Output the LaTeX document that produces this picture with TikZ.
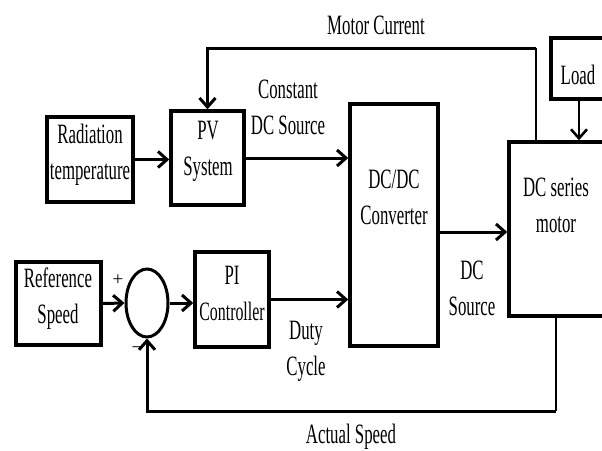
\documentclass[tikz,border=0pt]{standalone}
\usepackage{fontspec}
\setmainfont[FakeStretch=0.6]{Liberation Serif}
\newfontfamily\signfont{Liberation Serif}
\usetikzlibrary{arrows.meta,shapes.geometric,calc}
\begin{document}
\begin{tikzpicture}[x=1pt,y=-1pt,
  box/.style={draw,line width=3.5pt,rectangle,inner sep=0pt},
  lbl/.style={inner sep=0pt,align=center,font=\fontsize{28}{36}\selectfont},
  sgn/.style={inner sep=0pt,font=\signfont\fontsize{19}{19}\selectfont},
  arr/.style={line width=3pt,-{Straight Barb[length=9pt,width=16pt]}},
  fb/.style={line width=2.6pt,-{Straight Barb[length=9pt,width=16pt]}},
  fbl/.style={line width=2.6pt}]
\clip (0,0) rectangle (602,450);
\fill[white] (0,0) rectangle (602,450);
% boxes
\node[box,minimum width=86pt,minimum height=85pt] (rad) at (90,159.5) {};
\node[box,minimum width=73pt,minimum height=94pt] (pv) at (207.5,158) {};
\node[box,minimum width=88pt,minimum height=242pt] (dcdc) at (394,225) {};
\node[box,minimum width=98pt,minimum height=174pt] (motor) at (558,229) {};
\node[box,minimum width=56pt,minimum height=61pt] (load) at (579,68.5) {};
\node[box,minimum width=85pt,minimum height=83pt] (ref) at (58.5,303.5) {};
\node[draw,line width=3pt,ellipse,minimum width=42pt,minimum height=68pt,inner sep=0pt] (sum) at (147,303) {};
\node[box,minimum width=74pt,minimum height=95pt] (pi) at (232,299.5) {};
% texts
\node[lbl] (tmc) at (376,25) {Motor Current};
\node[lbl] (trad) at (90,155) {Radiation\\temperature};
\node[lbl] (tpv) at (208,151) {PV\\System};
\node[lbl] (tcds) at (288,107) {Constant\\DC Source};
\node[lbl] (tdcdc) at (394,197) {DC/DC\\Converter};
\node[lbl] (tmotor) at (556,205.5) {DC series\\motor};
\node[lbl] (tload) at (578,75) {Load};
\node[lbl] (tdcs) at (472,288) {DC\\Source};
\node[lbl] (tref) at (58,299) {Reference\\Speed};
\node[lbl] (tpi) at (232,293) {PI\\{\fontsize{26.5}{26.5}\selectfont Controller}};
\node[lbl] (tduty) at (306,351) {Duty\\Cycle};
\node[lbl] (tas) at (351,437) {Actual Speed};
\node[sgn] (tplus) at (118,280) {+};
\node[sgn] (tminus) at (137,350) {−};
% connectors
\draw[arr] (rad.east) -- (rad.east -| pv.west);
\draw[arr] (pv.east) -- (pv.east -| dcdc.west);
\coordinate (dco) at (438,232);
\draw[arr] (dco) -- (dco -| motor.west);
\draw[arr] (ref.east) -- (sum.west);
\draw[arr] (sum.east) -- (sum.east -| pi.west);
\draw[arr] (pi.east) -- (pi.east -| dcdc.west);
\draw[fb] (load.south) -- (load.south |- motor.north);
\coordinate (mccorner) at (536,48);
\draw[fbl] (mccorner |- motor.north) -- (mccorner);
\draw[arr] (mccorner) -| (pv.north);
\coordinate (ascorner) at (556,411);
\draw[fbl] (ascorner |- motor.south) -- (ascorner);
\draw[arr] (ascorner) -| (sum.south);
\end{tikzpicture}
\end{document}
